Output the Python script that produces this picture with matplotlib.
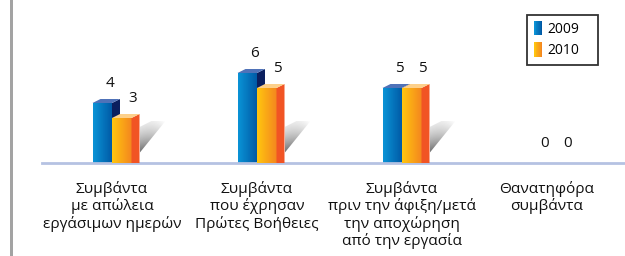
import matplotlib.pyplot as plt
import numpy as np
from matplotlib.colors import LinearSegmentedColormap
from matplotlib.patches import Polygon, Rectangle
from matplotlib.legend_handler import HandlerBase

plt.rcParams['font.family'] = ['Open Sans', 'DejaVu Sans']

categories = [
    "Συμβάντα\nμε απώλεια\nεργάσιμων ημερών",
    "Συμβάντα\nπου έχρησαν\nΠρώτες Βοήθειες",
    "Συμβάντα\nπριν την άφιξη/μετά\nτην αποχώρηση\nαπό την εργασία",
    "Θανατηφόρα\nσυμβάντα",
]
years = ["2009", "2010"]
v2009 = [4, 6, 5, 0]
v2010 = [3, 5, 5, 0]

W, H = 625, 256
PX = 1 / 145   # data units per pixel (x)
PY = 1 / 15    # data units per pixel (y)

blue_front = LinearSegmentedColormap.from_list('bf', ['#0a93d6', '#0058a4'])
orange_front = LinearSegmentedColormap.from_list('of', ['#ffc60f', '#f4861f'])
styles = [
    dict(cmap=blue_front, side='#0b1f5e', top='#4f72b8', dx_lab=5.4),
    dict(cmap=orange_front, side='#f15424', top='#fdd08a', dx_lab=7.9),
]


class GradHandler(HandlerBase):
    def __init__(self, cmap):
        super().__init__()
        self.cmap = cmap

    def create_artists(self, legend, orig_handle, xdescent, ydescent,
                       width, height, fontsize, trans):
        n = 10
        out = []
        for i in range(n):
            out.append(Rectangle((-xdescent + width * i / n, -ydescent - 1),
                                 width / n * 1.05, height + 2,
                                 facecolor=self.cmap(i / (n - 1)),
                                 edgecolor='none', transform=trans))
        return out


def shadow(ax, xr):
    # soft diagonal shadow cast behind a bar pair
    sw, sh = 26, 42
    poly = Polygon([(xr, 10 * PY), (xr + sw * PX, sh * PY),
                    (xr + 12 * PX, sh * PY), (xr, 36 * PY)],
                   facecolor='none', edgecolor='none')
    ax.add_patch(poly)
    px, py = np.meshgrid(np.linspace(0, sw, 80), np.linspace(0, sh, 80))
    along = np.clip((px + py) / (sw + sh), 0, 1)
    across = np.clip((py - 10 - px * 32 / 26) / 26, 0, 1)
    rgba = np.zeros((80, 80, 4))
    rgba[..., :3] = 0.22
    rgba[..., 3] = 0.9 * (1 - along) ** 1.1 * (1 - 0.65 * across)
    im = ax.imshow(rgba, extent=[xr, xr + sw * PX, 0, sh * PY],
                   aspect='auto', zorder=1, origin='lower')
    im.set_clip_path(poly)


fig = plt.figure(figsize=(W / 100, H / 100), dpi=100)
ax = fig.add_axes([42 / W, (H - 163) / H, (W - 42) / W, (163 - 10) / H])

x = np.arange(len(categories))
bw = 19.5 * PX
dx, dy = 8 * PX, 4 * PY

for k, (vals, st) in enumerate(zip([v2009, v2010], styles)):
    offs = -bw / 2 if k == 0 else bw / 2
    bars = ax.bar(x + offs, vals, bw, color='none', edgecolor='none',
                  zorder=2 + 2 * k)
    for rect, v in zip(bars, vals):
        x0, x1, h = rect.get_x(), rect.get_x() + rect.get_width(), rect.get_height()
        if v > 0:
            grad = np.linspace(0, 1, 64)[None, :]
            im = ax.imshow(grad, cmap=st['cmap'], extent=[x0, x1, 0, h],
                           aspect='auto', zorder=2 + 2 * k, origin='lower')
            im.set_clip_path(rect)
            ax.add_patch(Polygon([(x1, 0), (x1 + dx, 0), (x1 + dx, h + dy), (x1, h)],
                                 facecolor=st['side'], edgecolor='none',
                                 zorder=2 + 2 * k))
            ax.add_patch(Polygon([(x0, h), (x1, h), (x1 + dx, h + dy), (x0 + dx, h + dy)],
                                 facecolor=st['top'], edgecolor='none',
                                 zorder=2 + 2 * k))
            if k == 1:
                shadow(ax, x1 + dx)
        ax.annotate(str(v), xy=(rect.get_x() + rect.get_width() / 2, h),
                    xytext=(st['dx_lab'], 13.7), textcoords='offset points',
                    ha='center', va='center', fontsize=11, color='#111111')

ax.set_xlim(-70 * PX, (W - 112) * PX)
ax.set_ylim(0, 153 * PY)
ax.set_yticks([])
ax.set_xticks(x)
ax.set_xticklabels(categories, fontsize=11.1, linespacing=1.12, color='#111111')
ax.tick_params(axis='x', length=0, pad=13)
for s in ['top', 'left', 'right']:
    ax.spines[s].set_visible(False)
ax.spines['bottom'].set_color('#b5c2e2')
ax.spines['bottom'].set_linewidth(2)

fig.add_artist(Rectangle((10 / W, 0), 3 / W, 1, transform=fig.transFigure,
                         facecolor='#a3a3a3', edgecolor='none'))

h1 = Rectangle((0, 0), 1, 1)
h2 = Rectangle((0, 0), 1, 1)
leg = fig.legend([h1, h2], years, loc='upper left',
                 bbox_to_anchor=(527 / W, (H - 59) / H, 71 / W, 44 / H),
                 mode='expand', fontsize=10, frameon=True, fancybox=False,
                 edgecolor='black', handlelength=0.6, handleheight=0.9,
                 handletextpad=0.4, labelspacing=0.45, borderpad=0.5,
                 borderaxespad=0,
                 handler_map={h1: GradHandler(blue_front), h2: GradHandler(orange_front)})
leg.get_frame().set_linewidth(1.3)

fig.savefig('out.png', dpi=100)
